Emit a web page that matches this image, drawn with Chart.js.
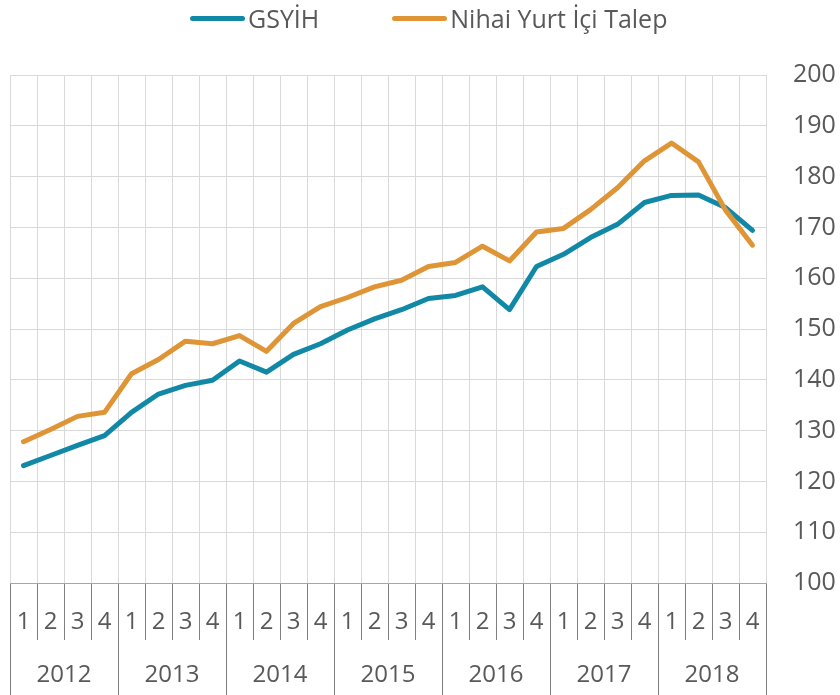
<!DOCTYPE html>
<html lang="tr">
<head>
<meta charset="UTF-8">
<title>GSYİH ve Nihai Yurt İçi Talep</title>
<script src="https://cdn.jsdelivr.net/npm/chart.js"></script>
<style>
    html, body { margin: 0; padding: 0; background: #fff; }
    #wrap { position: relative; width: 840px; height: 695px; }
    #legend {
        position: absolute; top: 0; left: 190px; height: 36px;
        display: flex; align-items: center;
        font-family: "Open Sans", sans-serif; font-size: 25px; color: #595959;
    }
    .item { display: flex; align-items: center; margin-right: 73px; }
    .swatch { width: 55px; height: 5px; border-radius: 3px; margin-right: 3px; }
</style>
</head>
<body>
<div id="wrap">
    <canvas id="chart" width="840" height="695"></canvas>
    <div id="legend"></div>
</div>
<script>
// quarters 2012Q1 .. 2018Q4
const quarters = ['1','2','3','4','1','2','3','4','1','2','3','4','1','2','3','4',
                  '1','2','3','4','1','2','3','4','1','2','3','4'];
const years = ['2012','2013','2014','2015','2016','2017','2018'];

const gsyih = [123.1, 125.1, 127.1, 129.0, 133.6, 137.2, 138.9, 139.9, 143.7, 141.5,
               145.0, 147.1, 149.8, 152.0, 153.8, 156.0, 156.6, 158.3, 153.8, 162.3,
               164.7, 168.0, 170.6, 174.9, 176.3, 176.4, 173.9, 169.4];
const talep = [127.8, 130.2, 132.8, 133.6, 141.2, 144.0, 147.6, 147.1, 148.7, 145.6,
               151.1, 154.4, 156.2, 158.3, 159.6, 162.3, 163.1, 166.3, 163.4, 169.1,
               169.8, 173.5, 177.8, 183.1, 186.6, 182.9, 173.4, 166.5];

const seriesNames = ['GSYİH', 'Nihai Yurt İçi Talep'];
const seriesColors = ['#1189a6', '#df9535'];

const font = { family: '"Open Sans", sans-serif', size: 24 };
const textColor = '#595959';

// html legend
const legend = document.getElementById('legend');
seriesNames.forEach((name, i) => {
    const it = document.createElement('div');
    it.className = 'item';
    it.innerHTML = '<span class="swatch" style="background:' + seriesColors[i] + '"></span>' + name;
    legend.appendChild(it);
});

new Chart(document.getElementById('chart'), {
    type: 'line',
    data: {
        labels: quarters,
        datasets: [
            { label: seriesNames[0], data: gsyih, borderColor: seriesColors[0], order: 1 },
            { label: seriesNames[1], data: talep, borderColor: seriesColors[1], order: 0 }
        ]
    },
    options: {
        responsive: false,
        animation: false,
        layout: { padding: { top: 75, left: 10, right: 0, bottom: 0 } },
        elements: {
            line: { borderWidth: 5, tension: 0, borderCapStyle: 'round', borderJoinStyle: 'round' },
            point: { radius: 0 }
        },
        plugins: { legend: { display: false }, tooltip: { enabled: false } },
        scales: {
            x: {
                type: 'category',
                position: 'bottom',
                offset: true,
                grid: { offset: true, color: '#d9d9d9', tickColor: '#7f7f7f', tickLength: 57 },
                border: { display: true, color: '#a6a6a6' },
                ticks: { font: font, color: textColor, autoSkip: false, maxRotation: 0, padding: -32 },
                afterFit: s => { s.height = 57; }
            },
            x2: {
                type: 'category',
                labels: years,
                position: 'bottom',
                offset: true,
                grid: { offset: true, drawOnChartArea: false, tickColor: '#7f7f7f', tickLength: 55 },
                border: { display: false },
                ticks: { font: font, color: textColor, autoSkip: false, maxRotation: 0, padding: -34 },
                afterFit: s => { s.height = 55; }
            },
            y: {
                position: 'right',
                min: 100,
                max: 200,
                ticks: { stepSize: 10, font: { family: font.family, size: 25 }, color: textColor, padding: 27 },
                grid: { color: '#d9d9d9', drawTicks: false },
                border: { display: false },
                afterFit: s => { s.width = 74; }
            }
        }
    }
});
</script>
</body>
</html>
